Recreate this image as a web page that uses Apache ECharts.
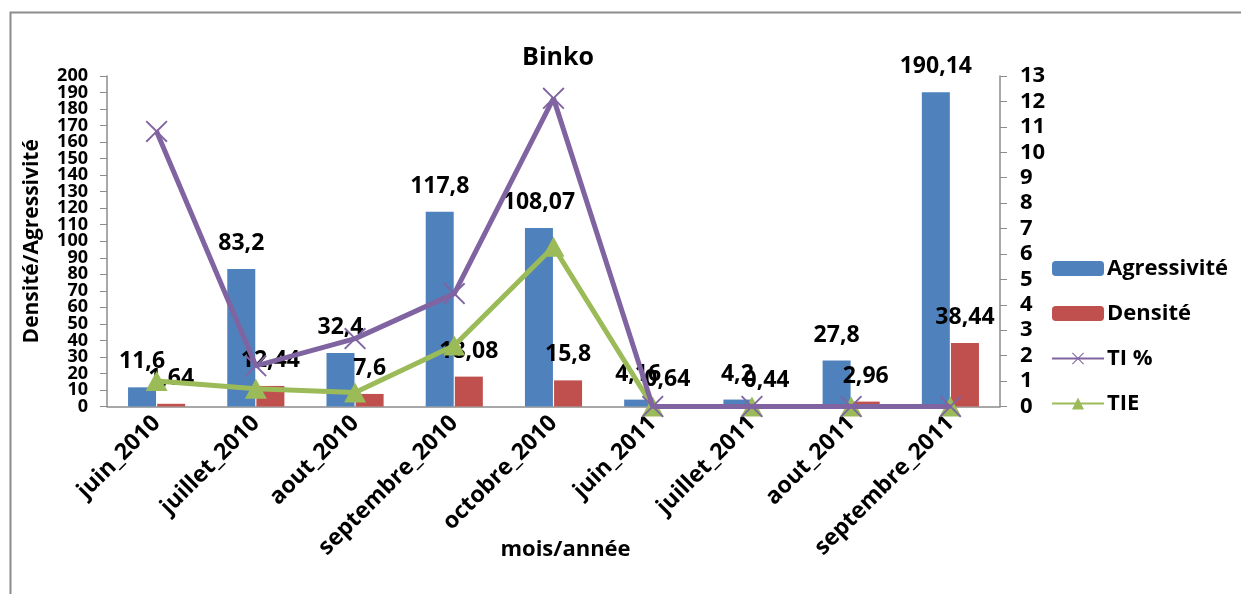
<!DOCTYPE html>
<html>
<head>
<meta charset="utf-8">
<script src="https://cdn.jsdelivr.net/npm/echarts@6/dist/echarts.min.js"></script>
<style>
  html, body { margin: 0; padding: 0; background: #fff; }
  #chart { width: 1241px; height: 594px; }
</style>
</head>
<body>
<div id="chart"></div>
<script>
// Month labels
const months = ['juin_2010', 'juillet_2010', 'aout_2010', 'septembre_2010', 'octobre_2010',
                'juin_2011', 'juillet_2011', 'aout_2011', 'septembre_2011'];
// Left axis series
const agressivite = [11.6, 83.2, 32.4, 117.8, 108.07, 4.16, 4.2, 27.8, 190.14];
const densite = [1.64, 12.44, 7.6, 18.08, 15.8, 0.64, 0.44, 2.96, 38.44];
// Right axis series
const tiPct = [10.82, 1.6, 2.67, 4.44, 12.12, 0, 0, 0, 0];
const tie = [1.0, 0.7, 0.55, 2.4, 6.28, 0, 0, 0, 0];
// Left axis labels at odd tens (the even tens come from the main axis)
const leftOddTicks = [10, 30, 50, 70, 90, 110, 130, 150, 170, 190];

const FONT = '"Open Sans", sans-serif';
const crossPath = 'path://M0,1.2 L1.2,0 L10,8.8 L18.8,0 L20,1.2 L11.2,10 L20,18.8 L18.8,20 L10,11.2 L1.2,20 L0,18.8 L8.8,10 Z';

const commaLabel = p => String(p.value).replace('.', ',');
const barLabel = {
  show: true, position: 'top', distance: 14,
  formatter: commaLabel,
  color: '#000', fontFamily: FONT, fontWeight: 'bold', fontSize: 23
};
const leftLabelStyle = {
  margin: 19, fontFamily: FONT, fontWeight: 'bold', fontSize: 18, color: '#000',
  hideOverlap: false, showMinLabel: true, showMaxLabel: true
};

const chart = echarts.init(document.getElementById('chart'));
chart.setOption({
  backgroundColor: '#fff',
  animation: false,
  title: {
    text: 'Binko', left: 553, top: 40, textAlign: 'center',
    textStyle: { fontFamily: FONT, fontWeight: 'bold', fontSize: 25, color: '#000' }
  },
  graphic: [{
    type: 'rect', left: 8, top: 10,
    shape: { width: 1400, height: 800 },
    style: { fill: 'none', stroke: '#8c8c8c', lineWidth: 2 }
  }],
  legend: {
    orient: 'vertical', left: 1046, top: 252,
    itemWidth: 52, itemHeight: 15, itemGap: 22,
    data: ['Agressivité', 'Densité', 'TI %', 'TIE'],
    textStyle: { fontFamily: FONT, fontWeight: 'bold', fontSize: 22, lineHeight: 23, color: '#000', padding: [0, 0, 0, -2] }
  },
  grid: { left: 107, right: 241, top: 76, bottom: 187.5, containLabel: false },
  xAxis: {
    type: 'category', data: months,
    name: 'mois/année', nameLocation: 'middle', nameGap: 132, nameMoveOverlap: false,
    nameTextStyle: { fontFamily: FONT, fontWeight: 'bold', fontSize: 22, color: '#000', padding: [0, 0, 0, 24] },
    axisLine: { lineStyle: { color: '#8c8c8c', width: 1.5 } },
    axisTick: { show: false },
    axisLabel: { rotate: 45, margin: 13, interval: 0, fontFamily: FONT, fontWeight: 'bold', fontSize: 23, color: '#000' }
  },
  yAxis: [{
    type: 'value', min: 0, max: 200, interval: 20,
    name: 'Densité/Agressivité', nameLocation: 'middle', nameGap: 64, nameRotate: 90,
    nameTextStyle: { fontFamily: FONT, fontWeight: 'bold', fontSize: 21, color: '#000' },
    axisLine: { show: true, lineStyle: { color: '#8c8c8c', width: 1.5 } },
    axisTick: { show: true, length: 7, lineStyle: { color: '#8c8c8c' } },
    minorTick: { show: true, splitNumber: 2, length: 7, lineStyle: { color: '#8c8c8c' } },
    splitLine: { show: false },
    axisLabel: leftLabelStyle
  }, {
    type: 'value', min: 0, max: 13, interval: 1, position: 'right',
    axisLine: { show: true, lineStyle: { color: '#8c8c8c', width: 1.5 } },
    axisTick: { show: true, length: 7, lineStyle: { color: '#8c8c8c' } },
    splitLine: { show: false },
    axisLabel: {
      margin: 20, fontFamily: FONT, fontWeight: 'bold', fontSize: 22, color: '#000',
      hideOverlap: false, showMinLabel: true, showMaxLabel: true
    }
  }, {
    type: 'value', min: 0, max: 200, position: 'left',
    axisLine: { show: false }, axisTick: { show: false }, splitLine: { show: false },
    axisLabel: Object.assign({ customValues: leftOddTicks }, leftLabelStyle)
  }],
  series: [{
    name: 'Agressivité', type: 'bar', data: agressivite,
    barWidth: 28, barGap: '4%',
    itemStyle: { color: '#4F81BD' },
    label: barLabel
  }, {
    name: 'Densité', type: 'bar', data: densite,
    barWidth: 28,
    itemStyle: { color: '#C0504D' },
    label: barLabel
  }, {
    name: 'TI %', type: 'line', yAxisIndex: 1, data: tiPct,
    symbol: crossPath, symbolSize: 22,
    lineStyle: { color: '#8064A2', width: 5 },
    itemStyle: { color: '#8064A2' },
    z: 4
  }, {
    name: 'TIE', type: 'line', yAxisIndex: 1, data: tie,
    symbol: 'triangle', symbolSize: [22, 20],
    lineStyle: { color: '#9BBB59', width: 5 },
    itemStyle: { color: '#9BBB59' },
    z: 3
  }]
});
</script>
</body>
</html>
